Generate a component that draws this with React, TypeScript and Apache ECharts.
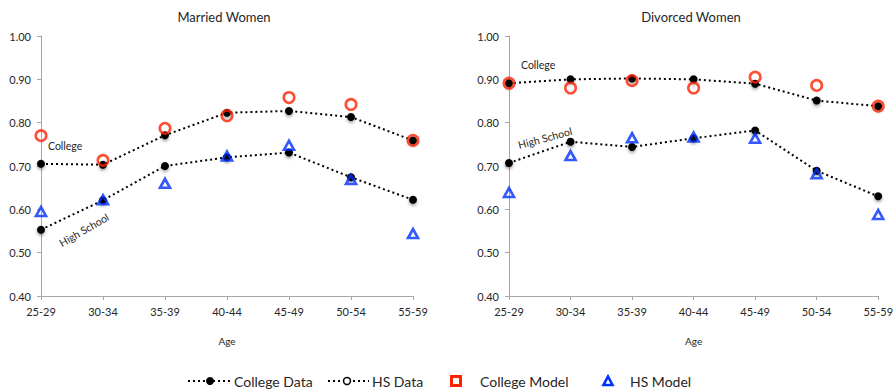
import React, { useEffect, useRef } from "react";
import * as echarts from "echarts";

const ages = ["25-29", "30-34", "35-39", "40-44", "45-49", "50-54", "55-59"];
const yTicks = [0.4, 0.5, 0.6, 0.7, 0.8, 0.9, 1.0];

const marriedCollegeData = [0.705, 0.703, 0.771, 0.823, 0.827, 0.813, 0.759];
const marriedHSData = [0.553, 0.621, 0.7, 0.72, 0.731, 0.674, 0.622];
const marriedCollegeModel = [0.77, 0.713, 0.787, 0.816, 0.858, 0.842, 0.759];
const marriedHSModel = [0.595, 0.622, 0.66, 0.723, 0.748, 0.669, 0.544];

const divorcedCollegeData = [0.891, 0.9, 0.902, 0.9, 0.89, 0.851, 0.838];
const divorcedHSData = [0.707, 0.756, 0.744, 0.764, 0.782, 0.689, 0.63];
const divorcedCollegeModel = [0.891, 0.88, 0.897, 0.88, 0.905, 0.886, 0.838];
const divorcedHSModel = [0.639, 0.724, 0.765, 0.767, 0.764, 0.682, 0.588];

const titles = ["Married Women", "Divorced Women"];
const legendNames = ["College Data", "HS Data", "College Model", "HS Model"];

const FONT = "Lato";
const RED = "#ff2200";
const BLUE = "#0030ff";
const AXIS = "#a6a6a6";
const TXT = "#262626";

export default function App() {
  const ref = useRef<HTMLDivElement>(null);
  useEffect(() => {
    if (!ref.current) return;
    const chart = echarts.init(ref.current, undefined, { renderer: "svg" });
    const grids = [
      { left: 41, top: 36, width: 372, height: 260 },
      { left: 509, top: 36, width: 372, height: 260 },
    ];
    const xAxis = grids.map((_, i) => ({
      type: "category",
      gridIndex: i,
      data: ages,
      boundaryGap: false,
      name: "Age",
      nameLocation: "middle",
      nameGap: 40,
      nameTextStyle: { fontFamily: FONT, fontSize: 10, color: TXT },
      axisLine: { lineStyle: { color: AXIS, width: 1 } },
      axisTick: { show: true, length: 4, lineStyle: { color: AXIS } },
      axisLabel: { fontFamily: FONT, fontSize: 11, color: TXT, margin: 10 },
      splitLine: { show: false },
    }));
    const yAxis = grids.map((_, i) => ({
      type: "value",
      gridIndex: i,
      min: yTicks[0],
      max: yTicks[yTicks.length - 1],
      interval: 0.1,
      axisLine: { show: true, lineStyle: { color: AXIS, width: 1 } },
      axisTick: { show: true, length: 4, lineStyle: { color: AXIS } },
      axisLabel: {
        fontFamily: FONT,
        fontSize: 11,
        color: TXT,
        margin: 10,
        formatter: (v: number) => v.toFixed(2),
      },
      splitLine: { show: false },
    }));
    const dataLine = (name: string, data: number[], i: number) => ({
      type: "line",
      name,
      xAxisIndex: i,
      yAxisIndex: i,
      data,
      symbol: "circle",
      symbolSize: 8,
      lineStyle: { color: "#000", width: 2, type: [2, 3] },
      itemStyle: {
        color: "#000",
        shadowColor: "rgba(0,0,0,0.35)",
        shadowBlur: 3,
        shadowOffsetY: 2,
      },
      z: 2,
    });
    const modelScatter = (
      name: string,
      data: number[],
      i: number,
      symbol: string,
      color: string
    ) => ({
      type: "scatter",
      name,
      xAxisIndex: i,
      yAxisIndex: i,
      data,
      symbol,
      symbolSize: symbol === "triangle" ? [10, 9] : 10.5,
      itemStyle: { color: "rgba(0,0,0,0)", borderColor: color, borderWidth: 2.6 },
      z: 3,
    });
    const series = [
      dataLine(legendNames[0], marriedCollegeData, 0),
      dataLine(legendNames[1], marriedHSData, 0),
      modelScatter(legendNames[2], marriedCollegeModel, 0, "circle", RED),
      modelScatter(legendNames[3], marriedHSModel, 0, "triangle", BLUE),
      dataLine(legendNames[0], divorcedCollegeData, 1),
      dataLine(legendNames[1], divorcedHSData, 1),
      modelScatter(legendNames[2], divorcedCollegeModel, 1, "circle", RED),
      modelScatter(legendNames[3], divorcedHSModel, 1, "triangle", BLUE),
    ];
    const ly = 381;
    const legendFont = { fontFamily: FONT, fontSize: 14, fill: TXT };
    const annFont = { fontFamily: FONT, fontSize: 10.5, fill: TXT };
    const graphic: any[] = [
      // annotations
      { type: "text", left: 48, top: 140, style: { text: "College", ...annFont } },
      {
        type: "text",
        x: 84,
        y: 230,
        rotation: (30 * Math.PI) / 180,
        style: { text: "High School", ...annFont, align: "center", verticalAlign: "middle" },
      },
      { type: "text", left: 521, top: 59, style: { text: "College", ...annFont } },
      {
        type: "text",
        x: 545,
        y: 138,
        rotation: (15 * Math.PI) / 180,
        style: { text: "High School", ...annFont, align: "center", verticalAlign: "middle" },
      },
      // legend
      { type: "line", shape: { x1: 188, y1: ly, x2: 230, y2: ly }, style: { stroke: "#000", lineWidth: 2, lineDash: [2, 3] } },
      { type: "circle", shape: { cx: 210, cy: ly, r: 4 }, style: { fill: "#000" } },
      { type: "text", x: 234, y: ly, style: { text: legendNames[0], ...legendFont, verticalAlign: "middle" } },
      { type: "line", shape: { x1: 328, y1: ly, x2: 369, y2: ly }, style: { stroke: "#000", lineWidth: 2, lineDash: [2, 3] } },
      { type: "circle", shape: { cx: 347, cy: ly, r: 3.5 }, style: { fill: "#fff", stroke: "#000", lineWidth: 1.5 } },
      { type: "text", x: 372, y: ly, style: { text: legendNames[1], ...legendFont, verticalAlign: "middle" } },
      { type: "rect", shape: { x: 451.5, y: ly - 4.5, width: 9, height: 9 }, style: { fill: "#fff", stroke: RED, lineWidth: 3 } },
      { type: "text", x: 480, y: ly, style: { text: legendNames[2], ...legendFont, verticalAlign: "middle" } },
      {
        type: "polygon",
        shape: { points: [[608, ly - 4.5], [612.5, ly + 4], [603.5, ly + 4]] },
        style: { fill: "#fff", stroke: BLUE, lineWidth: 2.6 },
      },
      { type: "text", x: 630, y: ly, style: { text: legendNames[3], ...legendFont, verticalAlign: "middle" } },
    ];
    chart.setOption({
      animation: false,
      backgroundColor: "#fff",
      title: titles.map((t, i) => ({
        text: t,
        left: i === 0 ? 219 : 686,
        top: 5,
        textAlign: "center",
        textStyle: { fontFamily: FONT, fontSize: 13, fontWeight: "normal", color: TXT },
      })),
      grid: grids,
      xAxis,
      yAxis,
      series,
      graphic,
    });
    return () => chart.dispose();
  }, []);
  return (
    <div
      ref={ref}
      style={{ position: "absolute", left: 0, top: 0, width: 896, height: 390 }}
    />
  );
}
